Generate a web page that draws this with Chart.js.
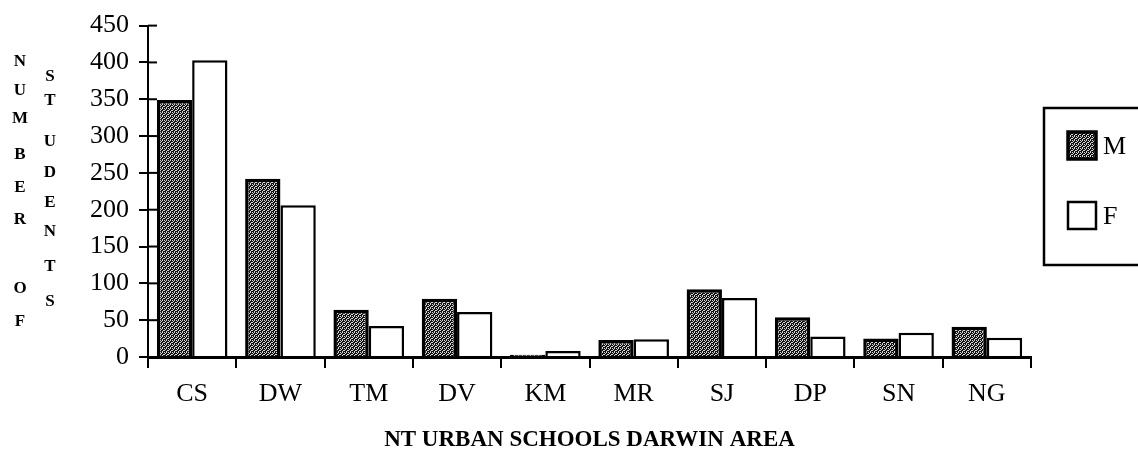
<!DOCTYPE html>
<html>
<head>
<meta charset="utf-8">
<script src="https://cdn.jsdelivr.net/npm/chart.js@4.4.1/dist/chart.umd.min.js"></script>
<style>
  html, body { margin: 0; padding: 0; background: #fff; }
  #wrap { width: 1138px; height: 457px; position: relative; }
</style>
</head>
<body>
<div id="wrap"><canvas id="chart" width="1138" height="457"></canvas></div>
<script>
// NT urban schools, Darwin area - students by sex
const schools = ['CS', 'DW', 'TM', 'DV', 'KM', 'MR', 'SJ', 'DP', 'SN', 'NG'];
const male    = [349, 242, 64, 79, 3, 23, 92, 54, 25, 41];
const female  = [403, 206, 42, 61, 8, 24, 80, 28, 33, 26];
const seriesNames = ['M', 'F'];
const yTitleLeft  = 'NUMBER OF';
const yTitleRight = 'STUDENTS';

const serif = "'Liberation Serif', 'Times New Roman', serif";

// dark stippled fill like the old printed hatch
function stipple() {
    const c = document.createElement('canvas');
    c.width = 4; c.height = 4;
    const g = c.getContext('2d');
    g.fillStyle = '#111';
    g.fillRect(0, 0, 4, 4);
    g.fillStyle = '#d8d8d8';
    [[0, 0], [2, 0], [1, 1], [3, 2], [0, 2], [2, 3]].forEach(p => g.fillRect(p[0], p[1], 1, 1));
    return g.createPattern(c, 'repeat');
}
const maleFill = stipple();

const extras = {
    id: 'extras',
    afterDraw(chart) {
        const ctx = chart.ctx;
        const y = chart.scales.y;
        ctx.save();

        // tick marks also cross to the inside of the y axis
        ctx.strokeStyle = '#000';
        ctx.lineWidth = 2;
        y.ticks.forEach(t => {
            const py = y.getPixelForValue(t.value);
            ctx.beginPath();
            ctx.moveTo(y.right, py);
            ctx.lineTo(y.right + 9, py);
            ctx.stroke();
        });

        // stacked letters for the y title, two columns
        ctx.fillStyle = '#000';
        ctx.font = 'bold 17px ' + serif;
        ctx.textAlign = 'center';
        ctx.textBaseline = 'middle';
        const leftY = [62, 91, 119, 155, 188, 220, 0, 289, 322];
        yTitleLeft.split('').forEach((ch, i) => {
            if (ch !== ' ') ctx.fillText(ch, 20, leftY[i]);
        });
        const rightY = [77, 101, 142, 173, 203, 232, 267, 302];
        yTitleRight.split('').forEach((ch, i) => ctx.fillText(ch, 50, rightY[i]));

        // legend box on the right
        ctx.lineWidth = 2.5;
        ctx.strokeRect(1044, 108, 120, 157);
        const rows = [132, 202];
        chart.data.datasets.forEach((ds, i) => {
            const sy = rows[i];
            ctx.fillStyle = ds.backgroundColor;
            ctx.fillRect(1068, sy, 28, 27);
            ctx.lineWidth = ds.borderWidth;
            ctx.strokeStyle = '#000';
            ctx.strokeRect(1068, sy, 28, 27);
            ctx.fillStyle = '#000';
            ctx.font = '26px ' + serif;
            ctx.textAlign = 'left';
            ctx.fillText(ds.label, 1103, sy + 15);
        });
        ctx.restore();
    }
};

new Chart(document.getElementById('chart'), {
    type: 'bar',
    data: {
        labels: schools,
        datasets: [{
            label: seriesNames[0],
            data: male,
            backgroundColor: maleFill,
            borderColor: '#000',
            borderWidth: 3.5
        }, {
            label: seriesNames[1],
            data: female,
            backgroundColor: '#fff',
            borderColor: '#000',
            borderWidth: 2.5
        }]
    },
    options: {
        responsive: false,
        devicePixelRatio: 1,
        animation: false,
        categoryPercentage: 0.8,
        barPercentage: 1,
        layout: {
            padding: { top: 25, right: 107, left: 0, bottom: 0 }
        },
        plugins: {
            legend: { display: false },
            tooltip: { enabled: false }
        },
        scales: {
            x: {
                grid: { drawOnChartArea: false, tickLength: 11, color: '#000', lineWidth: 2 },
                border: { color: '#000', width: 3 },
                ticks: { color: '#000', font: { family: serif, size: 26 }, padding: 11 },
                title: {
                    display: true,
                    text: 'NT URBAN SCHOOLS DARWIN AREA',
                    color: '#000',
                    font: { family: serif, size: 23, weight: 'bold' },
                    padding: { top: 4, bottom: 3 }
                },
                afterFit: s => { s.height = 100; }
            },
            y: {
                min: 0,
                max: 450,
                grid: { drawOnChartArea: false, tickLength: 9, color: '#000', lineWidth: 2 },
                border: { color: '#000', width: 2 },
                ticks: { stepSize: 50, color: '#000', font: { family: serif, size: 26 }, padding: 10 },
                afterFit: s => { s.width = 148; }
            }
        }
    },
    plugins: [extras]
});
</script>
</body>
</html>
